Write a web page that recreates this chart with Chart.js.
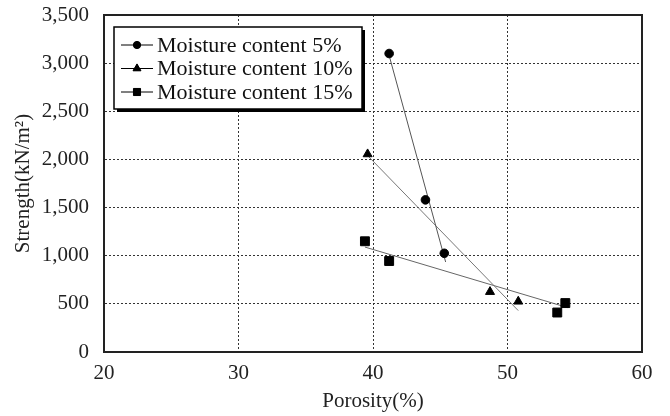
<!DOCTYPE html>
<html>
<head>
<meta charset="utf-8">
<script src="https://cdn.jsdelivr.net/npm/chart.js@4.4.0/dist/chart.umd.min.js"></script>
<style>
html, body { margin: 0; padding: 0; background: #fff; }
#wrap { width: 670px; height: 416px; }
</style>
</head>
<body>
<div id="wrap"><canvas id="myChart"></canvas></div>
<script>
// measured points
const porosity5 = [41.2, 43.9, 45.3];
const strength5 = [3100, 1580, 1025];
const porosity10 = [39.6, 48.7, 50.8];
const strength10 = [2055, 625, 525];
const porosity15 = [39.4, 41.2, 53.7, 54.3];
const strength15 = [1150, 945, 410, 508];

// trend line ends
const trend5x = [41.2, 45.4];
const trend5y = [3080, 935];
const trend10x = [39.6, 50.8];
const trend10y = [2040, 430];
const trend15x = [39.4, 54.5];
const trend15y = [1090, 460];

const labels = ['Moisture content 5%', 'Moisture content 10%', 'Moisture content 15%'];
const styles = ['circle', 'triangle', 'rect'];

const xTicks = [20, 30, 40, 50, 60];

function pts(xs, ys) {
  return xs.map((x, i) => ({ x: x, y: ys[i] }));
}

const serif = '"Liberation Serif", "Times New Roman", serif';

const markerSets = [
  [porosity5, strength5, 4.3],
  [porosity10, strength10, 5.2],
  [porosity15, strength15, 6.3]
].map((s, i) => ({
  label: labels[i],
  data: pts(s[0], s[1]),
  pointStyle: styles[i],
  pointRadius: s[2],
  backgroundColor: '#000',
  borderColor: '#000',
  borderWidth: 1,
  showLine: false,
  order: 1
}));

const trendSets = [
  [trend5x, trend5y, '#555'],
  [trend10x, trend10y, '#777'],
  [trend15x, trend15y, '#666']
].map(t => ({
  label: 'trend',
  data: pts(t[0], t[1]),
  showLine: true,
  pointRadius: 0,
  borderColor: t[2],
  borderWidth: 1,
  fill: false,
  order: 2
}));

const legendSizes = [3.6, 4.6, 5];

const boxLegend = {
  id: 'boxLegend',
  beforeDatasetsDraw(chart) {
    // solid frame round the plot
    const ctx = chart.ctx;
    const a = chart.chartArea;
    ctx.save();
    ctx.strokeStyle = '#222';
    ctx.lineWidth = 2;
    ctx.strokeRect(a.left, a.top, a.right - a.left, a.bottom - a.top);
    ctx.restore();
  },
  afterDraw(chart) {
    const ctx = chart.ctx;
    const a = chart.chartArea;
    const x = a.left + 10, y = a.top + 12, w = 248, h = 82;
    ctx.save();
    ctx.fillStyle = '#000';
    ctx.fillRect(x + 3, y + 3, w, h);
    ctx.fillStyle = '#fff';
    ctx.fillRect(x, y, w, h);
    ctx.strokeStyle = '#000';
    ctx.lineWidth = 1.5;
    ctx.strokeRect(x, y, w, h);
    ctx.font = '22px ' + serif;
    ctx.textBaseline = 'middle';
    for (let i = 0; i < 3; i++) {
      const cy = y + 18 + i * 23.5;
      ctx.strokeStyle = '#000';
      ctx.lineWidth = 1;
      ctx.beginPath();
      ctx.moveTo(x + 7, cy);
      ctx.lineTo(x + 39, cy);
      ctx.stroke();
      ctx.fillStyle = '#000';
      Chart.helpers.drawPoint(ctx, { pointStyle: styles[i], radius: legendSizes[i], borderWidth: 1 }, x + 23, cy);
      ctx.fill();
      ctx.fillStyle = '#111';
      ctx.fillText(labels[i], x + 43, cy + 1);
    }
    ctx.restore();
  }
};

const config = {
  type: 'scatter',
  data: { datasets: markerSets.concat(trendSets) },
  options: {
    responsive: true,
    maintainAspectRatio: false,
    animation: false,
    layout: { padding: { left: 11, right: 28, top: 15, bottom: 2 } },
    plugins: {
      legend: { display: false },
      tooltip: { enabled: false }
    },
    scales: {
      x: {
        type: 'linear',
        min: 20,
        max: 60,
        afterBuildTicks: s => { s.ticks = xTicks.map(v => ({ value: v })); },
        grid: { color: '#333', lineWidth: 1, drawTicks: false },
        border: { color: '#222', width: 2, dash: [2, 2] },
        ticks: { color: '#222', font: { family: serif, size: 21 }, padding: 9, maxRotation: 0 },
        title: { display: true, text: 'Porosity(%)', color: '#222', font: { family: serif, size: 21 }, padding: { top: 0, bottom: 0 } },
        afterFit: s => { s.height = 62; s.paddingLeft = 0; s.paddingRight = 0; }
      },
      y: {
        min: 0,
        max: 3500,
        ticks: {
          stepSize: 500,
          color: '#222',
          font: { family: serif, size: 21 },
          padding: 15,
          callback: v => v.toLocaleString('en-US')
        },
        grid: { color: '#333', lineWidth: 1, drawTicks: false },
        border: { color: '#222', width: 2, dash: [2, 2] },
        title: { display: true, text: 'Strength(kN/m²)', color: '#222', font: { family: serif, size: 21 }, padding: { top: 0, bottom: 0 } },
        afterFit: s => { s.width = 93; s.paddingTop = 0; s.paddingBottom = 0; }
      }
    }
  },
  plugins: [boxLegend]
};

new Chart(document.getElementById('myChart'), config);
</script>
</body>
</html>
